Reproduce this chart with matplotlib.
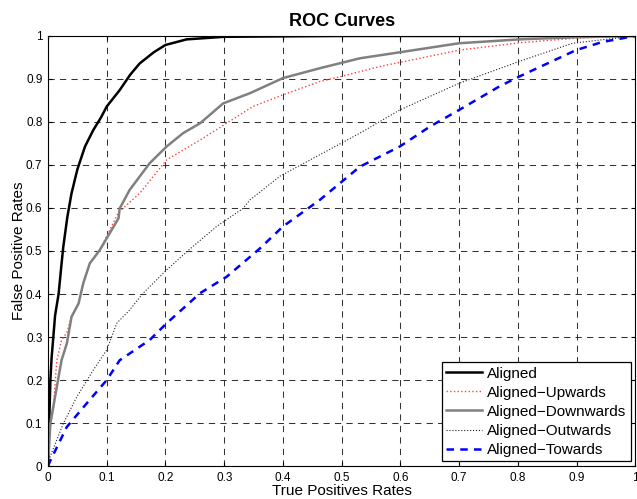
import matplotlib
matplotlib.use("Agg")
import matplotlib.pyplot as plt
import numpy as np

plt.rcParams['font.family'] = ['Liberation Sans', 'DejaVu Sans']

# curves (x = true positive rate axis, y = false positive rate axis)
aligned_x = [0, 0.002, 0.004, 0.006, 0.012, 0.018, 0.023, 0.026, 0.033, 0.040, 0.05, 0.063,
             0.077, 0.09, 0.10, 0.122, 0.14, 0.156, 0.18, 0.20, 0.236, 0.3, 0.5, 1.0]
aligned_y = [0, 0.10, 0.20, 0.25, 0.35, 0.40, 0.47, 0.51, 0.58, 0.634, 0.69, 0.743,
             0.781, 0.81, 0.836, 0.874, 0.91, 0.936, 0.962, 0.979, 0.992, 0.998, 1.0, 1.0]

upwards_x = [0, 0.003, 0.009, 0.012, 0.015, 0.023, 0.032, 0.040, 0.052, 0.06, 0.071, 0.088,
             0.12, 0.156, 0.202, 0.259, 0.304, 0.349, 0.40, 0.463, 0.497, 0.565, 0.633,
             0.70, 0.803, 0.90, 1.0]
upwards_y = [0, 0.084, 0.13, 0.192, 0.246, 0.293, 0.31, 0.347, 0.378, 0.425, 0.471, 0.502,
             0.59, 0.634, 0.712, 0.758, 0.797, 0.836, 0.863, 0.894, 0.905, 0.929, 0.948,
             0.967, 0.984, 0.995, 1.0]

downwards_x = [0, 0.004, 0.009, 0.023, 0.032, 0.040, 0.052, 0.06, 0.071, 0.088, 0.12, 0.122,
               0.139, 0.173, 0.202, 0.23, 0.259, 0.298, 0.344, 0.40, 0.463, 0.531, 0.599,
               0.70, 0.803, 0.90, 1.0]
downwards_y = [0, 0.10, 0.138, 0.246, 0.285, 0.347, 0.378, 0.425, 0.471, 0.502, 0.576, 0.599,
               0.642, 0.704, 0.743, 0.774, 0.797, 0.843, 0.867, 0.902, 0.925, 0.948, 0.962,
               0.983, 0.992, 0.997, 1.0]

outwards_x = [0, 0.003, 0.026, 0.049, 0.077, 0.10, 0.117, 0.139, 0.162, 0.202, 0.241, 0.287,
              0.332, 0.344, 0.395, 0.463, 0.531, 0.599, 0.70, 0.803, 0.893, 1.0]
outwards_y = [0, 0.02, 0.099, 0.161, 0.223, 0.27, 0.332, 0.363, 0.402, 0.456, 0.504, 0.557,
              0.599, 0.619, 0.674, 0.724, 0.774, 0.828, 0.89, 0.941, 0.983, 1.0]

towards_x = [0, 0.003, 0.032, 0.066, 0.10, 0.122, 0.173, 0.202, 0.259, 0.304, 0.36, 0.40,
             0.463, 0.531, 0.599, 0.65, 0.70, 0.769, 0.803, 0.899, 0.944, 1.0]
towards_y = [0, 0.01, 0.091, 0.146, 0.20, 0.246, 0.293, 0.332, 0.402, 0.44, 0.505, 0.557,
             0.619, 0.696, 0.743, 0.789, 0.828, 0.883, 0.906, 0.967, 0.986, 1.0]

ticks = np.round(np.arange(0, 1.01, 0.1), 1)
tick_labels = ["0", "0.1", "0.2", "0.3", "0.4", "0.5", "0.6", "0.7", "0.8", "0.9", "1"]

fig = plt.figure(figsize=(6.37, 4.99), dpi=100)
ax = fig.add_axes([0.0754, 0.066, 0.922, 0.862])

ax.plot(aligned_x, aligned_y, color="black", lw=1.8, label="Aligned")
ax.plot(upwards_x, upwards_y, color="#ff4040", lw=1.0, ls=":", label="Aligned\u2212Upwards")
ax.plot(downwards_x, downwards_y, color="#808080", lw=1.8, label="Aligned\u2212Downwards")
ax.plot(outwards_x, outwards_y, color="#202020", lw=0.8, ls=":", label="Aligned\u2212Outwards")
ax.plot(towards_x, towards_y, color="blue", lw=1.8, ls=(0, (3, 2.5)), label="Aligned\u2212Towards")

ax.set_xlim(0, 1)
ax.set_ylim(0, 1)
ax.set_xticks(ticks)
ax.set_yticks(ticks)
ax.set_xticklabels(tick_labels, fontsize=8.5)
ax.set_yticklabels(tick_labels, fontsize=8.5)
ax.tick_params(direction="in", top=True, right=True, length=3, pad=4)
ax.grid(True, color="#333333", ls=(0, (6, 5)), lw=0.75)

ax.set_title("ROC Curves", fontsize=13, fontweight="bold", pad=7)
ax.set_xlabel("True Positives Rates", fontsize=11, labelpad=0)
ax.set_ylabel("False Positive Rates", fontsize=11, labelpad=0)

leg = ax.legend(loc="lower right", fontsize=11, fancybox=False, framealpha=1,
                edgecolor="black", borderpad=0.3, labelspacing=0.33, handlelength=2.3,
                handletextpad=0.35, borderaxespad=0.3)
leg.get_frame().set_linewidth(0.9)

fig.savefig("out.png", dpi=100)
